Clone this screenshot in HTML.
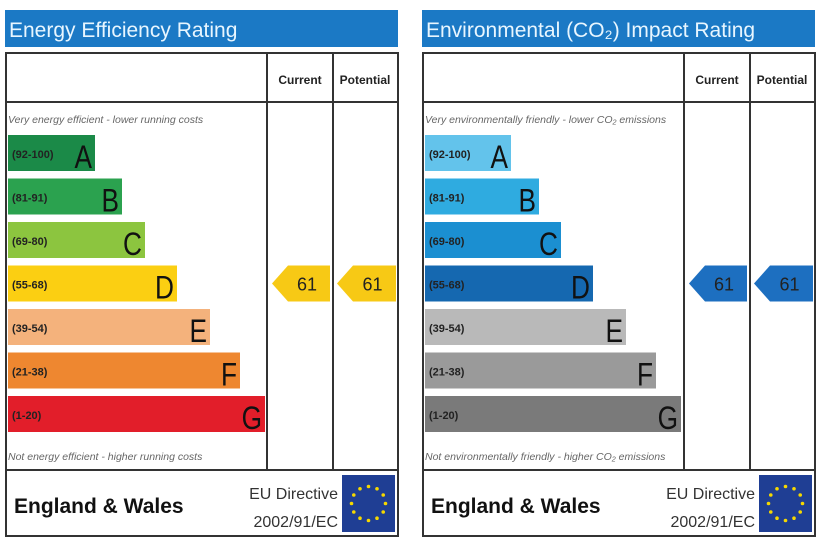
<!DOCTYPE html>
<html><head><meta charset="utf-8"><style>
body{margin:0;width:820px;height:547px;background:#fff;overflow:hidden;font-family:"Liberation Sans",sans-serif}
svg text{font-family:"Liberation Sans","DejaVu Sans",sans-serif}
</style></head><body>
<svg id="c" width="820" height="547" xmlns="http://www.w3.org/2000/svg"></svg>
<script>
const bands = ["A","B","C","D","E","F","G"];
const ranges = ["(92-100)","(81-91)","(69-80)","(55-68)","(39-54)","(21-38)","(1-20)"];
const bandMin = [92,81,69,55,39,21,1];
const energyEnds = [95,122,145,177,210,240,265];
const co2Ends = [94,122,144,176,209,239,264];
const energyColors = ["#1b8a48","#2ba24f","#8cc53f","#fbcf12","#f4b27c","#ee8730","#e21e2a"];
const co2Colors = ["#63c3eb","#2fabe0","#1b8fd1","#1568b0","#b9b9b9","#9a9a9a","#7a7a7a"];
const energyCurrent = 61, energyPotential = 61, co2Current = 61, co2Potential = 61;

const svg = document.getElementById('c');
const NS = "http://www.w3.org/2000/svg";
function el(tag, attrs, parent, text){
  const e = document.createElementNS(NS, tag);
  for (const k in attrs) e.setAttribute(k, attrs[k]);
  if (text !== undefined) e.textContent = text;
  (parent||svg).appendChild(e); return e;
}
function bandIndex(v){ for (let i=0;i<bandMin.length;i++) if (v>=bandMin[i]) return i; return 6; }
const yBand = i => 135 + i*43.5;

function panel(ox, title, topTxt, botTxt, ends, colors, cur, pot, arrowColor, prefix){
  const g = el('g', {transform:`translate(${ox},0)`});
  
  
  const tb = el('rect',{x:5,y:10,width:393,height:37,fill:"#1b79c5"},g);
  
  
  const tt = el('text',{x:9,y:37,fill:"#e8f6ff","font-size":21},g,title);
  
  
  el('rect',{x:6,y:53,width:392,height:483,fill:"none",stroke:"#333","stroke-width":2},g);
  el('line',{x1:6,y1:102,x2:398,y2:102,stroke:"#333","stroke-width":2},g);
  el('line',{x1:6,y1:470,x2:398,y2:470,stroke:"#333","stroke-width":2},g);
  el('line',{x1:267,y1:53,x2:267,y2:470,stroke:"#333","stroke-width":2},g);
  el('line',{x1:333,y1:53,x2:333,y2:470,stroke:"#333","stroke-width":2},g);
  const h1 = el('text',{x:300,y:84,"font-size":12,"font-weight":"bold","text-anchor":"middle",fill:"#222"},g,"Current");
  
  
  const h2 = el('text',{x:365,y:84,"font-size":12,"font-weight":"bold","text-anchor":"middle",fill:"#222"},g,"Potential");
  
  
  el('text',{x:8,y:123,"font-size":10.5,"font-style":"italic",fill:"#666"},g,topTxt);
  el('text',{x:8,y:460,"font-size":10.5,"font-style":"italic",fill:"#666"},g,botTxt);
  bands.forEach((b,i)=>{
    const y = yBand(i);
    const r = el('rect',{x:8,y:y,width:ends[i]-8,height:36,fill:colors[i]},g);
    
    
    el('text',{x:12,y:y+23,"font-size":11,"font-weight":"bold",fill:"#222"},g,ranges[i]);
    const L = el('text',{x:0,y:0,"font-size":32,"text-anchor":"end",fill:"#111",transform:`translate(${ends[i]-3},${y+33}) scale(0.82,1)`},g,b);
    
    
  });
  [[cur,272,330,'current'],[pot,337,396,'potential']].forEach(([v,x0,x1,n])=>{
    const y = yBand(bandIndex(v));
    const p = el('polygon',{points:`${x0},${y+18} ${x0+16},${y} ${x1},${y} ${x1},${y+36} ${x0+16},${y+36}`,fill:arrowColor},g);
    
    
    el('text',{x:(x0+x1)/2+6,y:y+25,"font-size":18,"text-anchor":"middle",fill:"#222"},g,String(v));
  });
  const ew = el('text',{x:14,y:513,"font-size":21,"font-weight":"bold",fill:"#111"},g,"England & Wales");
  
  
  el('text',{x:338,y:499,"font-size":16,"text-anchor":"end",fill:"#333"},g,"EU Directive");
  el('text',{x:338,y:527,"font-size":16,"text-anchor":"end",fill:"#333"},g,"2002/91/EC");
  const f = el('rect',{x:342,y:475,width:53,height:57,fill:"#1f3e94"},g);
  
  
  for (let k=0;k<12;k++){
    const a = k*Math.PI/6;
    el('circle',{cx:368.5+17*Math.cos(a),cy:503.5+17*Math.sin(a),r:1.8,fill:"#f5d800"},g);
  }
}
panel(0,"Energy Efficiency Rating","Very energy efficient - lower running costs","Not energy efficient - higher running costs",energyEnds,energyColors,energyCurrent,energyPotential,"#f7c915","energy");
panel(417,"Environmental (CO\u2082) Impact Rating","Very environmentally friendly - lower CO\u2082 emissions","Not environmentally friendly - higher CO\u2082 emissions",co2Ends,co2Colors,co2Current,co2Potential,"#1d6fc0","co2");
</script>
</body></html>
